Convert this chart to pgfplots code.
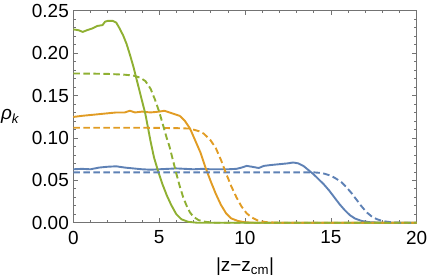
\documentclass[border=0pt]{standalone}
\usepackage{fontspec}
\setmainfont{Liberation Sans}
\usepackage{pgfplots}
\pgfplotsset{compat=1.18}
\definecolor{mblue}{rgb}{0.368417,0.506779,0.709798}
\definecolor{morange}{rgb}{0.880722,0.611041,0.142051}
\definecolor{mgreen}{rgb}{0.560181,0.691569,0.194885}
\begin{document}
\fontsize{19}{22}\selectfont
\begin{tikzpicture}
\begin{axis}[
 scale only axis, width=343.4bp, height=212bp,
 xmin=0, xmax=20, ymin=0, ymax=0.25,
 xtick={0,5,10,15,20}, ytick={0,0.05,0.1,0.15,0.2,0.25},
 minor x tick num=4, minor y tick num=4,
 tick align=inside,
 major tick length=4.5bp, minor tick length=2.5bp,
 axis line style={black!55, line width=0.8bp},
 every tick/.style={black!55, line width=0.6bp},
 /pgf/number format/assume math mode=true,
 tick label style={font=\fontsize{19}{22}\selectfont, inner sep=0pt},
 y tick label style={/pgf/number format/fixed, /pgf/number format/fixed zerofill, /pgf/number format/precision=2, xshift=-4.3bp},
 x tick label style={yshift=-8bp},
 every axis x label/.style={at={(axis description cs:0.5,0)}, anchor=north, inner sep=0pt, yshift=-35bp},
 every axis y label/.style={at={(axis description cs:0,0.5)}, anchor=center, inner sep=0pt, xshift=-63bp},
 xlabel={|z−z\textsubscript{cm}|},
 ylabel={\textit{ρ}\textsubscript{\textit{k}}},
 clip=false,
 every axis plot/.append style={no marks, line width=1.9bp, line join=round},
]
% blue solid
\addplot[mblue] coordinates {
(0,0.063)(0.5,0.0635)(1,0.063)(1.5,0.065)(2,0.066)(2.5,0.0665)(3,0.065)(3.5,0.064)(4,0.063)(4.5,0.0625)(5,0.063)(5.5,0.0635)(6,0.064)(6.5,0.0635)(7,0.063)(7.5,0.0635)(8,0.063)(8.5,0.063)(9,0.063)(9.5,0.0635)(9.8,0.065)(10.1,0.067)(10.4,0.066)(10.8,0.0645)(11.1,0.067)(11.5,0.068)(12,0.069)(12.5,0.070)(12.8,0.071)(13.1,0.070)(13.4,0.067)(13.7,0.062)(14,0.057)(14.3,0.051)(14.6,0.045)(14.9,0.038)(15.2,0.030)(15.5,0.022)(15.8,0.015)(16.1,0.009)(16.4,0.005)(16.8,0.002)(17.3,0.0005)(18,0)(20,0)};
% orange solid
\addplot[morange] coordinates {
(0,0.1247)(0.5,0.126)(1,0.127)(1.5,0.128)(2,0.129)(2.5,0.130)(3,0.130)(3.3,0.132)(3.6,0.130)(4,0.131)(4.5,0.130)(5,0.131)(5.3,0.132)(5.6,0.130)(5.9,0.128)(6.2,0.126)(6.5,0.120)(6.8,0.111)(7.1,0.097)(7.4,0.083)(7.7,0.065)(8.0,0.049)(8.3,0.034)(8.6,0.021)(8.9,0.011)(9.2,0.005)(9.6,0.002)(10,0.0005)(10.5,0)(20,0)};
% green solid
\addplot[mgreen] coordinates {
(0,0.228)(0.3,0.227)(0.55,0.225)(0.8,0.227)(1.1,0.229)(1.4,0.232)(1.7,0.233)(1.85,0.237)(2.0,0.238)(2.3,0.238)(2.5,0.236)(2.7,0.229)(2.9,0.221)(3.1,0.211)(3.3,0.198)(3.5,0.184)(3.7,0.168)(3.9,0.152)(4.2,0.128)(4.5,0.096)(4.7,0.077)(4.95,0.060)(5.2,0.045)(5.45,0.032)(5.7,0.021)(6.0,0.010)(6.3,0.004)(6.7,0.001)(7.2,0)(20,0)};
% blue dashed
\addplot[mblue, dash pattern=on 6.5bp off 3.5bp] coordinates {
(0,0.0594)(14,0.0594)(14.5,0.0585)(15,0.0555)(15.3,0.052)(15.6,0.048)(15.9,0.042)(16.2,0.035)(16.5,0.027)(16.8,0.019)(17.1,0.012)(17.4,0.007)(17.7,0.004)(18.0,0.002)(18.5,0.0005)(19,0)(20,0)};
% orange dashed
\addplot[morange, dash pattern=on 6.5bp off 3.5bp] coordinates {
(0,0.112)(2,0.112)(4,0.112)(6,0.1115)(6.8,0.111)(7.3,0.108)(7.6,0.105)(8.0,0.097)(8.3,0.088)(8.6,0.074)(8.9,0.058)(9.2,0.043)(9.5,0.030)(9.8,0.019)(10.1,0.011)(10.4,0.006)(10.8,0.002)(11.3,0.0005)(12,0)(20,0)};
% green dashed
\addplot[mgreen, dash pattern=on 6.5bp off 3.5bp] coordinates {
(0,0.176)(1,0.1758)(2,0.1755)(3,0.1745)(3.5,0.1735)(3.9,0.171)(4.2,0.167)(4.5,0.158)(4.76,0.145)(5.0,0.131)(5.2,0.117)(5.44,0.100)(5.6,0.090)(5.8,0.074)(6.0,0.058)(6.2,0.043)(6.4,0.030)(6.6,0.020)(6.8,0.012)(7.0,0.007)(7.3,0.003)(7.7,0.001)(8.2,0)(20,0)};
\end{axis}
\pgfresetboundingbox
\path (-73.3bp,-57.3bp) rectangle (355.7bp,222.7bp);
\end{tikzpicture}
\end{document}
